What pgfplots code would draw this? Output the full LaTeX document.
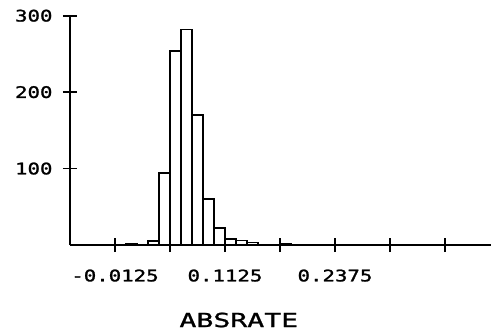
\documentclass[border=0pt]{standalone}
\usepackage{fontspec}
\usepackage{pgfplots}
\pgfplotsset{compat=1.18}
\newfontfamily\pixfont[FakeStretch=1.3,FakeBold=1.5]{DejaVu Sans Mono}
\newfontfamily\pixlabel[FakeStretch=1.45,FakeBold=1.2]{DejaVu Sans Mono}
\begin{document}
\begin{tikzpicture}
\begin{axis}[
  at={(0,0)}, anchor=south west,
  scale only axis,
  width=421bp, height=229.3bp,
  xmin=-0.0636, xmax=0.4148,
  ymin=0, ymax=300,
  axis lines=left,
  axis line style={-, line width=1.8bp},
  tick align=center,
  major tick length=14bp,
  every tick/.style={line width=1.8bp, black},
  xtick style={line width=1.8bp, black},
  ytick style={line width=1.8bp, black},
  xtick={-0.0125,0.05,0.1125,0.175,0.2375,0.3,0.3625},
  xticklabels={-0.0125,,0.1125,,0.2375,,},
  ytick={100,200,300},
  yticklabels={100,200,300},
  xticklabel style={font=\fontsize{16}{16}\pixfont, anchor=north, yshift=-14bp},
  yticklabel style={font=\fontsize{16}{16}\pixfont, anchor=east, xshift=-7bp},
  xlabel={ABSRATE},
  xlabel style={font=\fontsize{19.5}{19.5}\pixlabel, at={(rel axis cs:0.401,0)}, anchor=center, yshift=-75bp},
  clip=false,
]
\addplot[ybar interval, draw=black, fill=white, line width=1.4bp] coordinates {
  (0.0,2) (0.0125,0) (0.025,5) (0.0375,94) (0.05,254) (0.0625,282) (0.075,170)
  (0.0875,60) (0.1,22) (0.1125,8) (0.125,6) (0.1375,3) (0.15,0)
};
\addplot[ybar interval, draw=black, fill=white, line width=1.4bp] coordinates {
  (0.175,2) (0.1875,0)
};
\end{axis}
\pgfresetboundingbox
\useasboundingbox (-70bp,-91bp) rectangle (421bp,245bp);
\end{tikzpicture}
\end{document}
